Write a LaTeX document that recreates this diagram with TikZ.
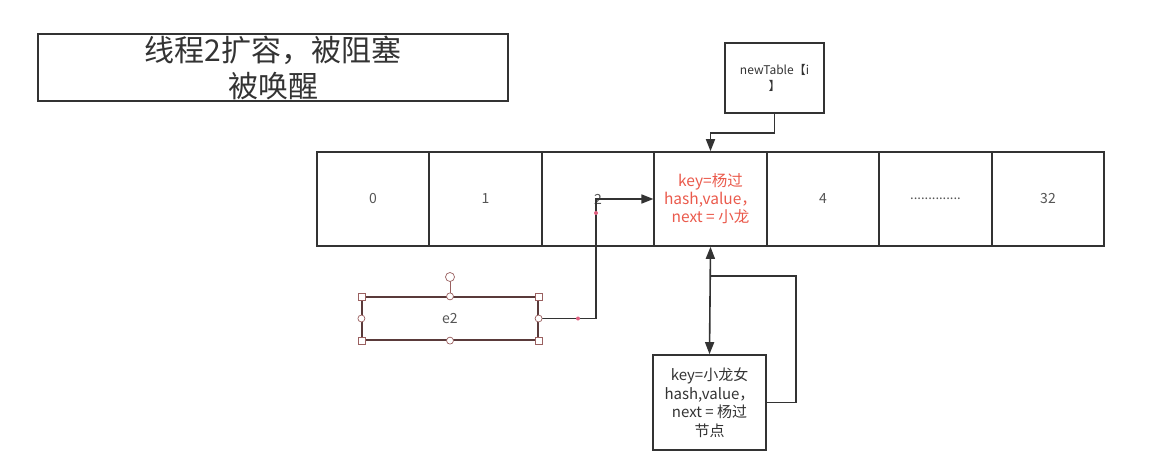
\documentclass[tikz,border=0pt]{standalone}
\usepackage{fontspec}
\setmainfont{Noto Sans CJK SC}
\usetikzlibrary{arrows.meta,positioning}
\definecolor{ink}{HTML}{333333}
\definecolor{txt}{HTML}{555555}
\definecolor{hot}{HTML}{EA5A4C}
\definecolor{sel}{HTML}{5A3A3A}
\definecolor{grip}{HTML}{9A6060}
\definecolor{dot}{HTML}{E06080}
\newcommand\hotcell{key=杨过\\hash,value，\\next = 小龙}
\newcommand\dotcell{\fontsize{13}{16}\selectfont ..............}

\begin{document}
\begin{tikzpicture}[x=1pt,y=-1pt,
    cell/.style={draw=ink,line width=1.6pt,minimum width=112.5pt,minimum height=94pt,
                 inner sep=0pt,align=center,text=txt,font=\fontsize{14}{17.5}\selectfont},
    hotcell/.style={text=hot,font=\fontsize{15.5}{18}\selectfont},
    box/.style={draw=ink,line width=1.6pt,inner sep=0pt,align=center,text=ink},
    arr/.style={ink,line width=1.6pt,-{Triangle[length=12pt,width=9pt]}},
    handle/.style={draw=grip,fill=white,line width=0.7pt}]
    \useasboundingbox (0,0) rectangle (1154,474);
    % title
    \node[box,line width=1.2pt,minimum width=470pt,minimum height=67pt,
          font=\fontsize{30}{36}\selectfont] (title) at (273,67.5) {线程2扩容，被阻塞\\被唤醒};
    % new table pointer
    \node[box,minimum width=99pt,minimum height=70pt,
          font=\fontsize{12}{16}\selectfont] (nt) at (774.5,78) {newTable【i\\】};
    % array cells
    \foreach \lab/\sty [count=\i from 0] in {0/,1/,2/,\hotcell/hotcell,4/,\dotcell/,32/}
      \node[cell,\sty] (c\i) at (373+112.5*\i,199) {\lab};
    % selected entry e2
    \node[draw=sel,line width=1.2pt,minimum width=176pt,minimum height=43pt,
          text=txt,font=\fontsize{14}{16}\selectfont] (e2) at (450,318.5) {e2};
    % chained node
    \node[box,minimum width=113pt,minimum height=95pt,
          font=\fontsize{15}{18.5}\selectfont] (nd) at (709.5,402.5) {key=小龙女\\hash,value，\\next = 杨过\\节点};
    \coordinate (bend) at (596,199);
    \coordinate (joint) at (709.5,276);
    \coordinate (rot) at (450,277);
    % connectors
    \draw[arr] (nt.south) -- ++(0,19) -| (c3.north);
    \draw[arr] (e2.east) -| (bend) -- (c3.west);
    \draw[arr,{Triangle[length=12pt,width=9pt]}-{Triangle[length=12pt,width=9pt]}] (c3.south) -- (nd.north);
    \draw[ink,line width=1.6pt] (nd.east) -- ++(29,0) |- (joint);
    % editor handles
    \draw[grip,line width=0.8pt] (e2.north) -- (rot);
    \filldraw[handle] (rot) circle (4.5);
    \foreach \a in {north west,north east,south west,south east}
      \filldraw[handle] (e2.\a) ++(-3.5,-3.5) rectangle ++(7,7);
    \foreach \a in {north,south,east,west}
      \filldraw[handle] (e2.\a) circle (3.5);
    \fill[dot] (578,318.5) circle (2);
    \fill[dot] (596,213) circle (2);
\end{tikzpicture}
\end{document}
